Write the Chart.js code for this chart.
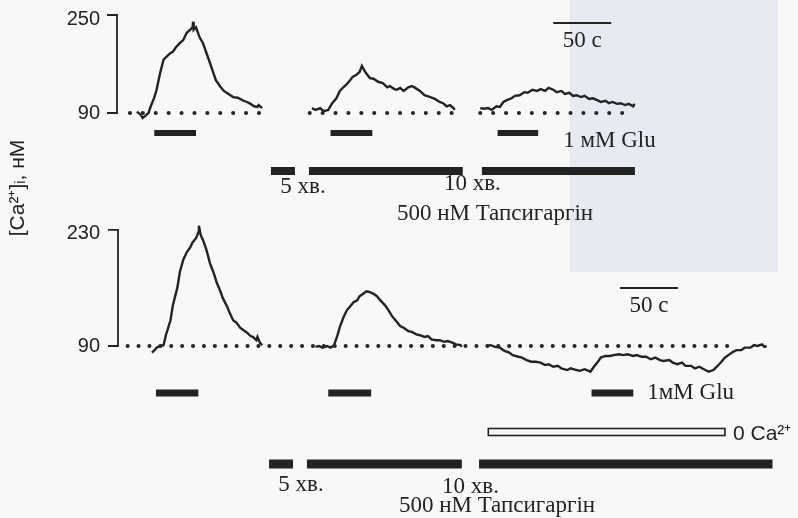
<!DOCTYPE html>
<html><head><meta charset="utf-8">
<script src="https://cdn.jsdelivr.net/npm/chart.js@4.4.1/dist/chart.umd.min.js"></script>
<style>html,body{margin:0;padding:0;background:#f8f8f7;}#wrap{width:798px;height:518px;position:relative;}</style>
</head><body><div id="wrap"><canvas id="c" width="798" height="518"></canvas></div>
<script>
// ---------- DATA (time in s, [Ca2+]i in nM) ----------
// Top panel traces
const topT1_t = [118,121,123,125,128,130,133,135,138,141,143,147,149,152,155,158,161,164,166,166.5,167,169,172,175,178,181,184,186,190,193,197,201,205,210,213,216,219,222,223,226];
const topT1_v = [92,88,82,85,90,101,115,128,155,177,181,188,190,198,204,209,221,226,230,239,226,230,214,204,188,172,155,144,133,126,121,116,115,110,108,105,101,100,103,98];
const topT2_t = [269,272,276,279,283,286,290,293,296,299,302,304,307,310,312,314,316,319,322,326,330,334,336,340,342,345,348,352,355,358,362,366,371,375,379,382,385,388,391,392];
const topT2_v = [98,95,98,93,95,105,114,126,132,137,144,149,152,157,167,160,154,147,146,141,139,132,134,129,128,131,126,132,134,131,126,119,116,113,108,106,101,103,98,95];
const topT3_t = [414,417,421,424,428,431,434,437,441,444,448,452,455,459,463,466,470,473,477,480,484,487,491,494,497,501,504,508,511,515,518,522,525,528,532,535,539,542,546,547];
const topT3_v = [98,97,98,95,101,100,108,111,114,118,119,124,123,128,126,129,126,131,128,124,126,121,123,118,119,116,118,113,114,111,108,110,106,108,105,106,103,105,101,105];
// Bottom panel traces
const botT1_t = [131,134,135,138,141,143,147,149,153,155,158,161,164,166,169,171,171.5,173,175,178,181,184,187,190,192,196,198,201,204,207,210,213,216,218,221,222,224,226];
const botT1_v = [82,86,88,90,91,103,121,139,161,179,194,203,209,215,220,227,235,224,218,206,190,179,166,156,148,137,130,121,118,112,109,106,102,101,97,101,94,91];
const botT2_t = [272,275,278,282,285,288,291,293,296,299,302,305,308,310,314,316,319,322,325,328,332,335,338,341,345,348,352,355,359,362,366,369,372,376,379,383,386,390,393,397,398];
const botT2_v = [89,90,88,90,88,91,103,113,124,133,138,143,145,150,154,156,155,153,150,145,139,133,126,121,114,112,108,107,104,103,101,102,98,97,97,95,96,94,92,91,89];
const botT3_t = [420,423,427,431,435,439,442,447,450,454,458,462,466,470,473,477,481,484,489,492,497,500,504,509,512,515,518,522,526,529,534,537,541,546,549,553,557,561,565,569,572,577,580,584,588,591,596,599,603,608,611,615,618,622,625,628,632,635,639,642,647,650,653,657,659,661];
const botT3_v = [90,91,89,88,84,82,79,77,76,73,71,71,70,67,68,65,66,63,61,63,61,60,62,59,65,70,76,78,78,79,80,79,80,78,79,77,77,74,76,73,72,73,70,68,70,66,66,63,65,61,59,61,65,71,76,79,83,85,85,88,88,91,90,92,89,90];
// Baselines (90 nM) extents, s
const topBase = [[112,231],[267,392],[414,543]];
const botBase = [[110,634]];
const baseLevel = 90;
// Applications (s)
const topGlu = [[133,169],[285,321],[429,464]];
const botGlu = [[134.5,171],[283,320],[510,546]];
const topTg  = [[233.6,254.3],[266.4,399],[415.5,547.4]];
const botTg  = [[232,252.6],[264.6,398.2],[413,666]];
const botZeroCa = [[421,625]];
const scaleBar = 50; // s
const topScaleStart = 477, botScaleStart = 534.5;
// Axis brackets
const topTicks = [90,250];
const botTicks = [90,230];
// Labels
const yTitle = '[Ca²⁺]ᵢ, нМ';
const gluTop = '1 мМ Glu', gluBot = '1мМ Glu';
const tgLabel = '500 нМ Тапсигаргін';
const break1 = '5 хв.', break2 = '10 хв.';
const scaleLabel = '50 с';
const zeroCaLabel = '0 Ca²⁺';

// ---------- LAYOUT ----------
const LANE = {topGlu:133, topTg:171, botGlu:393, botZero:432, botTg:464, topScale:23, botScale:288};
const INK = '#232323';
const SERIF = '23px "Liberation Serif", "Times New Roman", serif';
const SANS = '20px "Liberation Sans", Arial, sans-serif';

function pts(t,v){return t.map((x,i)=>({x:x,y:v[i]}));}
function trace(t,v,axis){return {data:pts(t,v),yAxisID:axis,borderColor:INK,borderWidth:2.4,borderJoinStyle:'miter',pointRadius:0,tension:0,fill:false};}
function dotted(seg,axis,gap){return {data:[{x:seg[0],y:baseLevel},{x:seg[1],y:baseLevel}],yAxisID:axis,borderColor:'#262626',borderWidth:4,borderDash:[0.1,gap],borderCapStyle:'round',pointRadius:0};}
function bar(seg,lane,w){return {data:[{x:seg[0],y:lane},{x:seg[1],y:lane}],yAxisID:'yl',borderColor:INK,borderWidth:w,borderCapStyle:'butt',pointRadius:0};}

const datasets = [];
topBase.forEach(s=>datasets.push(dotted(s,'yT',12.8)));
botBase.forEach(s=>datasets.push(dotted(s,'yB',10.8)));
datasets.push(trace(topT1_t,topT1_v,'yT'),trace(topT2_t,topT2_v,'yT'),trace(topT3_t,topT3_v,'yT'));
datasets.push(trace(botT1_t,botT1_v,'yB'),trace(botT2_t,botT2_v,'yB'),trace(botT3_t,botT3_v,'yB'));
topGlu.forEach(s=>datasets.push(bar(s,LANE.topGlu,6)));
botGlu.forEach(s=>datasets.push(bar(s,LANE.botGlu,7)));
topTg.forEach(s=>datasets.push(bar(s,LANE.topTg,8)));
botTg.forEach(s=>datasets.push(bar(s,LANE.botTg,9)));
datasets.push(bar([topScaleStart,topScaleStart+scaleBar],LANE.topScale,1.8));
datasets.push(bar([botScaleStart,botScaleStart+scaleBar],LANE.botScale,1.8));

const decor = {
  id:'decor',
  beforeDraw(chart){
    const c=chart.ctx; c.save();
    c.fillStyle='#f8f8f7'; c.fillRect(0,0,chart.width,chart.height);
    c.fillStyle='#e7eaf0'; c.fillRect(570,0,208,272);
    c.restore();
  },
  afterDraw(chart){
    const c=chart.ctx, x=chart.scales.x, yT=chart.scales.yT, yB=chart.scales.yB;
    c.save();
    c.strokeStyle=INK; c.fillStyle=INK; c.lineWidth=1.8;
    function bracket(sc,ticks,ax){
      const y0=sc.getPixelForValue(ticks[0]), y1=sc.getPixelForValue(ticks[1]);
      c.beginPath(); c.moveTo(ax-10,y1); c.lineTo(ax,y1); c.lineTo(ax,y0); c.lineTo(ax-10,y0); c.stroke();
      c.font=SANS; c.textAlign='right'; c.textBaseline='middle';
      c.fillText(String(ticks[1]),100,y1+4); c.fillText(String(ticks[0]),100,y0);
    }
    bracket(yT,topTicks,117); bracket(yB,botTicks,118);
    botZeroCa.forEach(s=>{const a=x.getPixelForValue(s[0]),b=x.getPixelForValue(s[1]); c.lineWidth=1.6; c.strokeRect(a,LANE.botZero-3.5,b-a,7);});
    c.save(); c.translate(18,188); c.rotate(-Math.PI/2);
    c.font='21px "Liberation Sans", Arial, sans-serif'; c.textAlign='center'; c.textBaseline='middle';
    c.fillText(yTitle,0,0); c.restore();
    c.font=SERIF; c.textBaseline='middle';
    c.textAlign='left';
    c.fillText(gluTop,x.getPixelForValue(topGlu[2][1])+25,141);
    c.fillText(gluBot,x.getPixelForValue(botGlu[2][1])+14,393);
    c.textAlign='center';
    c.fillText(break1,x.getPixelForValue((topTg[0][1]+topTg[1][0])/2)+1,187);
    c.fillText(break2,x.getPixelForValue((topTg[1][1]+topTg[2][0])/2),184);
    c.fillText(break1,x.getPixelForValue((botTg[0][1]+botTg[1][0])/2)+1,485);
    c.fillText(break2,x.getPixelForValue((botTg[1][1]+botTg[2][0])/2),487);
    c.fillText(tgLabel,495,214);
    c.fillText(tgLabel,497,506);
    c.fillText(scaleLabel,x.getPixelForValue(topScaleStart+scaleBar/2),41);
    c.fillText(scaleLabel,x.getPixelForValue(botScaleStart+scaleBar/2),306);
    c.font='21px "Liberation Sans", Arial, sans-serif'; c.textAlign='left';
    c.fillText(zeroCaLabel,733,434);
    c.restore();
  }
};

new Chart(document.getElementById('c'),{
  type:'line',
  data:{datasets:datasets},
  options:{
    responsive:false, animation:false, events:[],
    layout:{padding:0},
    plugins:{legend:{display:false},tooltip:{enabled:false}},
    scales:{
      x:{type:'linear',min:0,max:688,display:false},
      yT:{type:'linear',min:-571.2,max:274.5,display:false},
      yB:{type:'linear',min:-117.5,max:507.4,display:false},
      yl:{type:'linear',min:0,max:518,reverse:true,display:false}
    }
  },
  plugins:[decor]
});
</script></body></html>
